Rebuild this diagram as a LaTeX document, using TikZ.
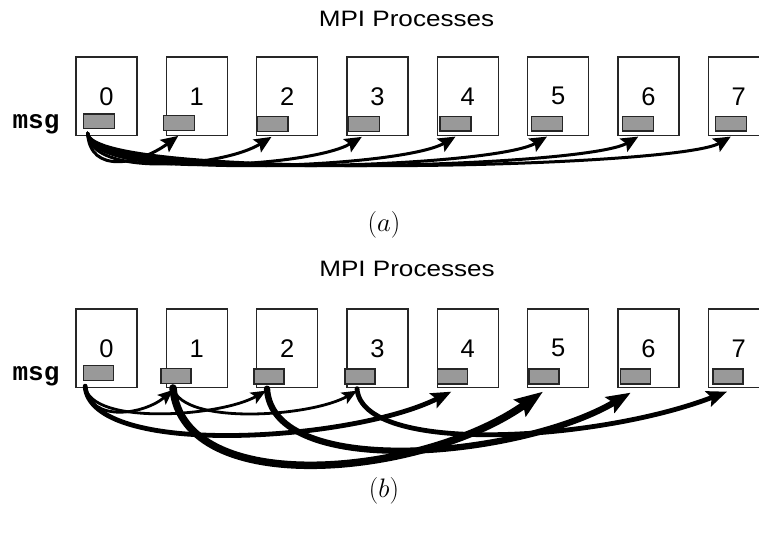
\RequirePackage{fix-cm}
\documentclass[tikz,border=0pt]{standalone}
\usepackage{fontspec}
\newfontfamily\helv{Liberation Sans}
\newfontfamily\cour{Liberation Mono}
\usetikzlibrary{arrows.meta}
\definecolor{bufgray}{HTML}{999999}
\definecolor{edge}{HTML}{262626}
\tikzset{
  procbox/.style={draw=edge, line width=1.5pt, fill=white, minimum width=61pt,
    minimum height=78.5pt, inner sep=0pt, font=\helv\fontsize{25.5}{28}\selectfont},
  buf/.style={draw=edge, line width=1.3pt, fill=bufgray, minimum width=31pt,
    minimum height=14.5pt, inner sep=0pt},
  bufb/.style={buf, minimum width=30pt, minimum height=15pt},
  title/.style={font=\helv\fontsize{22.3}{26}\selectfont, inner sep=0pt, xscale=1.17},
  msglbl/.style={font=\cour\bfseries\fontsize{26}{30}\selectfont, inner sep=0pt, anchor=base},
  caption/.style={font=\fontsize{26.7}{30}\selectfont, inner sep=0pt},
  send/.style={line width=#1, line cap=round},
  send/.default=3pt,
  tipA/.style={-{Stealth[length=17pt, width=15pt, inset=3pt]}},
  tipthin/.style={-{Stealth[length=15pt, width=12.5pt, inset=3pt]}},
}
\begin{document}
\begin{tikzpicture}[x=1pt, y=-1pt]
\useasboundingbox (0,0) rectangle (759,534);
\begin{scope}
\clip (0,0) rectangle (759,534);

% ---------- (a) linear broadcast ----------
\node[title] (ta) at (406.5,19.2) {MPI Processes};
\foreach \i in {0,...,7}
  \node[procbox] (a\i) at ({106.5+90.33*\i},96.25) {\i};
\node[msglbl] (msga) at (36,128.3) {msg};

\node[buf] (ma0) at (98.8,121.2) {};
\node[buf] (ma1) at (179.2,123) {};
\node[buf] (ma2) at (272.5,124) {};
\node[buf] (ma3) at (363.8,124) {};
\node[buf] (ma4) at (455.5,123.7) {};
\node[buf] (ma5) at (547,123.7) {};
\node[buf] (ma6) at (638.3,123.7) {};
\node[buf] (ma7) at (730.8,123.7) {};

\draw[send, tipA] ([shift={(5,4)}]ma0.south west) .. controls +(2,42) and +(-38,28) .. ([shift={(-1,5)}]ma1.south);
\draw[send, tipA] ([shift={(5,4)}]ma0.south west) .. controls +(2,45) and +(-48,30) .. ([shift={(-1,5)}]ma2.south);
\draw[send, tipA] ([shift={(5,4)}]ma0.south west) .. controls +(2,46) and +(-52,31) .. ([shift={(-2,5)}]ma3.south);
\foreach \j in {4,...,7}
  \draw[send, tipA] ([shift={(5,4)}]ma0.south west) .. controls +(2,48) and +(-55,32) .. ([shift={(0,5)}]ma\j.south);

\node[caption] (capa) at (384,225) {$(a)$};

% ---------- (b) binomial-tree broadcast ----------
\node[title] (tb) at (407,269.2) {MPI Processes};
\foreach \i in {0,...,7}
  \node[procbox] (b\i) at ({106.5+90.33*\i},348.25) {\i};
\node[msglbl] (msgb) at (36,380.5) {msg};

\node[bufb] (mb0) at (98.8,373) {};
\node[bufb] (mb1) at (176,375.8) {};
\node[bufb] (mb2) at (269,376.5) {};
\node[bufb] (mb3) at (360,376.5) {};
\node[bufb] (mb4) at (452.3,376.5) {};
\node[bufb] (mb5) at (544,376.5) {};
\node[bufb] (mb6) at (635.7,376.5) {};
\node[bufb] (mb7) at (728,376.5) {};

% step 1
\draw[send=2.8pt, tipthin]
  ([shift={(2,5)}]mb0.south west) .. controls +(5,38) and +(-28,24) .. ([shift={(-3,6)}]mb1.south);
% step 2
\draw[send=2.8pt, tipthin]
  ([shift={(2,5)}]mb0.south west) .. controls +(5,40) and +(-45,26) .. ([shift={(-3,6)}]mb2.south);
\draw[send=2.8pt, tipthin]
  ([shift={(-3,4)}]mb1.south) .. controls +(10,38) and +(-45,26) .. ([shift={(-3,6)}]mb3.south);
% step 3
\draw[send=4.8pt, -{Stealth[length=20pt, width=16pt, inset=3.5pt]}]
  ([shift={(2,5)}]mb0.south west) .. controls +(5,72) and +(-100,50) .. ([shift={(-1,7)}]mb4.south);
\draw[send=7.5pt, -{Stealth[length=28pt, width=20pt, inset=4pt]}]
  ([shift={(-3,4)}]mb1.south) .. controls +(10,112) and +(-120,85) .. ([shift={(-1,7)}]mb5.south);
\draw[send=6.3pt, -{Stealth[length=24pt, width=18pt, inset=4pt]}]
  ([shift={(-2,4)}]mb2.south) .. controls +(5,92) and +(-110,65) .. ([shift={(-5,8)}]mb6.south);
\draw[send=4.8pt, -{Stealth[length=20pt, width=16pt, inset=3.5pt]}]
  ([shift={(-3,4)}]mb3.south) .. controls +(5,67) and +(-130,50) .. ([shift={(-1,7)}]mb7.south);

\node[caption] (capb) at (384,491) {$(b)$};
\end{scope}
\end{tikzpicture}
\end{document}
